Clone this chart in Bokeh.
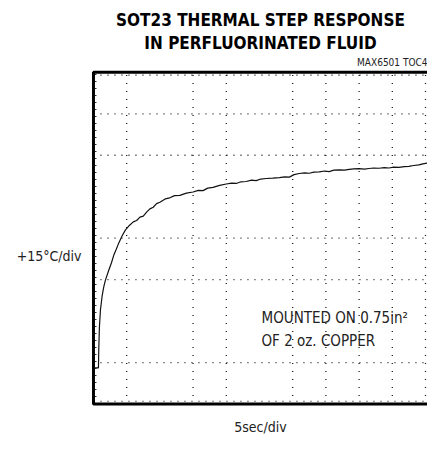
from bokeh.plotting import figure
from bokeh.models import Label, Range1d
from bokeh.embed import file_html
from bokeh.resources import INLINE

# ---- data (time in seconds, temperature in degC above base) ----
time_s = [0.1, 0.75, 0.8, 0.9, 1.05, 1.3, 1.55, 1.8, 2.3, 2.7, 3.05, 3.4, 3.8, 4.3, 4.8,
          5.4, 6.0, 6.5, 7.0, 7.5, 8.0, 8.5, 9.0, 9.5, 10.0, 10.8, 11.5, 12.2, 13.0,
          14.0, 15.0, 15.8, 16.5, 17.2, 18.0, 19.0, 20.0, 20.8, 21.5, 22.2, 23.0,
          23.8, 24.5, 25.2, 26.0, 27.0, 28.0, 28.8, 29.5, 30.2, 31.0, 31.8, 32.5,
          33.2, 34.0, 34.8, 35.5, 36.2, 37.0, 37.8, 38.5, 39.2, 40.0, 40.8, 41.5,
          42.2, 43.0, 43.8, 44.5, 45.2, 46.0, 46.8, 47.5, 48.2, 49.0, 49.6, 50.3]
temp_c = [13.1, 13.1, 20.0, 28.0, 34.0, 39.0, 42.4, 44.8, 48.4, 51.0, 53.8, 55.8, 58.2, 60.8, 62.9,
          64.6, 65.9, 66.4, 67.6, 68.0, 69.4, 70.6, 71.2, 72.5, 73.0, 74.2, 74.6, 75.4, 75.5,
          76.3, 76.7, 77.3, 77.2, 78.1, 78.4, 79.1, 79.6, 79.9, 79.8, 80.4, 80.5,
          81.0, 80.8, 81.4, 81.6, 81.7, 81.9, 82.2, 82.1, 83.0, 83.4, 83.6, 83.5,
          83.9, 84.0, 84.3, 84.1, 84.6, 84.7, 84.6, 84.9, 85.1, 85.2, 85.0, 85.2,
          85.4, 85.3, 85.5, 85.4, 85.7, 85.6, 85.9, 86.0, 86.3, 86.5, 86.9, 87.2]

SEC_PER_DIV = 5
DEG_PER_DIV = 15
N_XDIV = 10
N_YDIV = 8
x_grid_divs = [1, 3, 4, 6, 7, 8, 9, 10]
y_grid_divs = [1, 3, 4, 6, 7]

title_lines = ["SOT23 THERMAL STEP RESPONSE", "IN PERFLUORINATED FLUID"]
fig_code = "MAX6501 TOC4"
y_label = "+15\u00b0C/div"
x_label = "5sec/div"
note_lines = ["MOUNTED ON 0.75in\u00b2", "OF 2 oz. COPPER"]

COND = "DejaVu Sans Condensed"
TXT = "#222222"

x_max = N_XDIV * SEC_PER_DIV
y_max = N_YDIV * DEG_PER_DIV
x_edge = x_max + 0.3

# whole canvas is the plot frame; the scope box sits inside it
p = figure(width=427, height=456, output_backend="svg", toolbar_location=None,
           x_range=Range1d(-14.0, x_edge), y_range=Range1d(-19.0, 146.0),
           min_border=0, min_border_left=0, min_border_right=0,
           min_border_top=0, min_border_bottom=0)
p.outline_line_color = None
p.xaxis.visible = False
p.yaxis.visible = False
p.xgrid.visible = False
p.ygrid.visible = False
p.background_fill_color = "white"
p.border_fill_color = "white"

# dotted graticule
vx = [d * SEC_PER_DIV for d in x_grid_divs]
p.segment(x0=vx, y0=[0] * len(vx), x1=vx, y1=[y_max] * len(vx),
          line_color="black", line_dash="1 7", line_width=1.3, line_alpha=0.9)
hy = [d * DEG_PER_DIV for d in y_grid_divs]
p.segment(x0=[0] * len(hy), y0=hy, x1=[x_edge] * len(hy), y1=hy,
          line_color="black", line_dash="1 6", line_width=1.3, line_alpha=0.9)

# minor tick dots along borders
p.segment(x0=[0, 0, 0.35], y0=[y_max - 1.0, 1.0, 0], x1=[x_edge, x_edge, 0.35], y1=[y_max - 1.0, 1.0, y_max],
          line_color="black", line_dash="1 6", line_width=1.2)

# frame borders (left, top, bottom)
p.line([x_edge, 0, 0, x_edge], [y_max, y_max, 0, 0], line_color="black", line_width=3)

# trace
p.line(time_s, temp_c, line_color="#111111", line_width=1.2)

# texts
def lab(x, y, t, size, align="left", style="normal", color=TXT):
    p.add_layout(Label(x=x, y=y, text=t, text_font=COND, text_font_size=size,
                       text_align=align, text_baseline="middle",
                       text_font_style=style, text_color=color))

lab(25.15, 138.9, title_lines[0], "17px", "center", "bold", "black")
lab(25.15, 130.6, title_lines[1], "17px", "center", "bold", "black")
lab(x_edge, 123.4, fig_code, "10px", "right")
lab(-1.8, 53.7, y_label, "14px", "right")
lab(25.15, -8.3, x_label, "14px", "center")
lab(25.3, 31.1, note_lines[0], "15px")
lab(25.3, 22.8, note_lines[1], "15px")

open("out.html", "w").write(file_html(p, INLINE))
